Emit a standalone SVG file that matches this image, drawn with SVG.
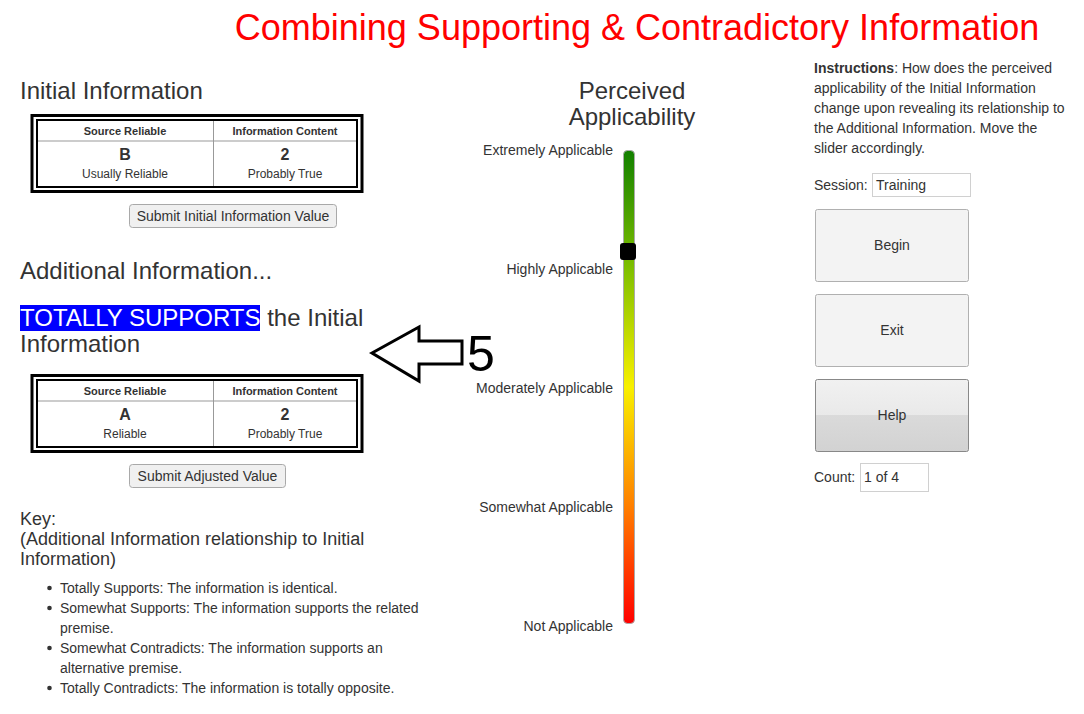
<svg xmlns="http://www.w3.org/2000/svg" width="1084" height="714" viewBox="0 0 1084 714">
<defs>
<style>
text{font-family:"Liberation Sans",Arial,sans-serif;fill:#333}
.h{font-size:24px}
.th{font-size:11px;font-weight:bold;text-anchor:middle}
.tv{font-size:16px;font-weight:bold;text-anchor:middle}
.td{font-size:12px;text-anchor:middle}
.s{font-size:14px}
.lab{font-size:14px;text-anchor:end}
.btn{fill:#f0f0f0;stroke:#a9a9a9;stroke-width:1}
.big{fill:#f3f3f3;stroke:#b0b0b0;stroke-width:1}
.inp{fill:#fff;stroke:#d0d0d0;stroke-width:1}
.ctr{text-anchor:middle}
</style>
<linearGradient id="slide" x1="0" y1="0" x2="0" y2="1">
<stop offset="0" stop-color="#128000"/>
<stop offset="0.25" stop-color="#80c000"/>
<stop offset="0.5" stop-color="#f8f000"/>
<stop offset="0.75" stop-color="#ff8000"/>
<stop offset="1" stop-color="#ff0000"/>
</linearGradient>
<linearGradient id="helpg" x1="0" y1="0" x2="0" y2="1">
<stop offset="0" stop-color="#f1f1f1"/>
<stop offset="0.5" stop-color="#e9e9e9"/>
<stop offset="0.5" stop-color="#dadada"/>
<stop offset="1" stop-color="#d2d2d2"/>
</linearGradient>
</defs>
<rect width="1084" height="714" fill="#fff"/>
<text x="637" y="40" font-size="36" text-anchor="middle" style="fill:#ff0000">Combining Supporting &amp; Contradictory Information</text>

<g id="initial">
<text x="20" y="99" class="h">Initial Information</text>
<rect x="32" y="115.5" width="330" height="76" fill="none" stroke="#000" stroke-width="3"/>
<rect x="37" y="120" width="320" height="67" fill="none" stroke="#000" stroke-width="2"/>
<line x1="38" y1="141" x2="356" y2="141" stroke="#999"/>
<line x1="213.5" y1="121" x2="213.5" y2="186" stroke="#999"/>
<text x="125" y="135" class="th">Source Reliable</text>
<text x="285" y="135" class="th">Information Content</text>
<text x="125" y="160" class="tv">B</text>
<text x="285" y="160" class="tv">2</text>
<text x="125" y="178" class="td">Usually Reliable</text>
<text x="285" y="178" class="td">Probably True</text>
</g>
<g id="btn-initial">
<rect x="129.5" y="204.5" width="207" height="23" rx="3" class="btn"/>
<text x="233" y="221" class="s ctr">Submit Initial Information Value</text>
</g>

<g id="additional">
<text x="20" y="279" class="h">Additional Information...</text>
<rect x="20" y="305" width="240" height="26" fill="#0000ff"/>
<text x="20" y="326" class="h"><tspan style="fill:#fff">TOTALLY SUPPORTS</tspan> the Initial</text>
<text x="20" y="352" class="h">Information</text>
<rect x="32" y="375.5" width="330" height="76" fill="none" stroke="#000" stroke-width="3"/>
<rect x="37" y="380" width="320" height="67" fill="none" stroke="#000" stroke-width="2"/>
<line x1="38" y1="401" x2="356" y2="401" stroke="#999"/>
<line x1="213.5" y1="381" x2="213.5" y2="446" stroke="#999"/>
<text x="125" y="395" class="th">Source Reliable</text>
<text x="285" y="395" class="th">Information Content</text>
<text x="125" y="420" class="tv">A</text>
<text x="285" y="420" class="tv">2</text>
<text x="125" y="438" class="td">Reliable</text>
<text x="285" y="438" class="td">Probably True</text>
</g>
<g id="btn-adjusted">
<rect x="129.5" y="464.5" width="156" height="23" rx="3" class="btn"/>
<text x="207.5" y="481" class="s ctr">Submit Adjusted Value</text>
</g>

<g id="callout">
<polygon points="372,353 419,327 419,341 462,341 462,364 419,364 419,381" fill="#fff" stroke="#000" stroke-width="3" stroke-linejoin="miter"/>
<text x="467" y="371" font-size="50" style="fill:#000">5</text>
</g>

<g id="key">
<text x="20" y="525" font-size="18">Key:</text>
<text x="20" y="545" font-size="18">(Additional Information relationship to Initial</text>
<text x="20" y="565" font-size="18">Information)</text>
<g fill="#333">
<circle cx="49.5" cy="588" r="2.3"/>
<circle cx="49.5" cy="608" r="2.3"/>
<circle cx="49.5" cy="648" r="2.3"/>
<circle cx="49.5" cy="688" r="2.3"/>
</g>
<text x="60" y="593" class="s">Totally Supports: The information is identical.</text>
<text x="60" y="613" class="s">Somewhat Supports: The information supports the related</text>
<text x="60" y="633" class="s">premise.</text>
<text x="60" y="653" class="s">Somewhat Contradicts: The information supports an</text>
<text x="60" y="673" class="s">alternative premise.</text>
<text x="60" y="693" class="s">Totally Contradicts: The information is totally opposite.</text>
</g>

<g id="slider">
<text x="632" y="99" class="h ctr">Perceived</text>
<text x="632" y="125" class="h ctr">Applicability</text>
<rect x="623.5" y="150.5" width="11" height="473" rx="4" fill="url(#slide)" stroke="#aaa"/>
<rect x="620" y="243" width="16" height="17" rx="3" fill="#000"/>
<text x="613" y="155" class="lab">Extremely Applicable</text>
<text x="613" y="274" class="lab">Highly Applicable</text>
<text x="613" y="393" class="lab">Moderately Applicable</text>
<text x="613" y="512" class="lab">Somewhat Applicable</text>
<text x="613" y="631" class="lab">Not Applicable</text>
</g>

<g id="instructions">
<text x="814" y="73" class="s"><tspan font-weight="bold">Instructions</tspan>: How does the perceived</text>
<text x="814" y="93" class="s">applicability of the Initial Information</text>
<text x="814" y="113" class="s">change upon revealing its relationship to</text>
<text x="814" y="133" class="s">the Additional Information. Move the</text>
<text x="814" y="153" class="s">slider accordingly.</text>
</g>
<g id="session">
<text x="814" y="190" class="s">Session:</text>
<rect x="872.5" y="173.5" width="98" height="23" class="inp"/>
<text x="876" y="190" class="s">Training</text>
</g>
<g id="btn-begin">
<rect x="815.5" y="209.5" width="153" height="72" rx="2" class="big"/>
<text x="892" y="250" class="s ctr">Begin</text>
</g>
<g id="btn-exit">
<rect x="815.5" y="294.5" width="153" height="72" rx="2" class="big"/>
<text x="892" y="335" class="s ctr">Exit</text>
</g>
<g id="btn-help">
<rect x="815.5" y="379.5" width="153" height="72" rx="2" fill="url(#helpg)" stroke="#888"/>
<text x="892" y="420" class="s ctr">Help</text>
</g>
<g id="count">
<text x="814" y="482" class="s">Count:</text>
<rect x="860.5" y="463.5" width="68" height="28" class="inp"/>
<text x="864" y="482" class="s">1 of 4</text>
</g>
</svg>
